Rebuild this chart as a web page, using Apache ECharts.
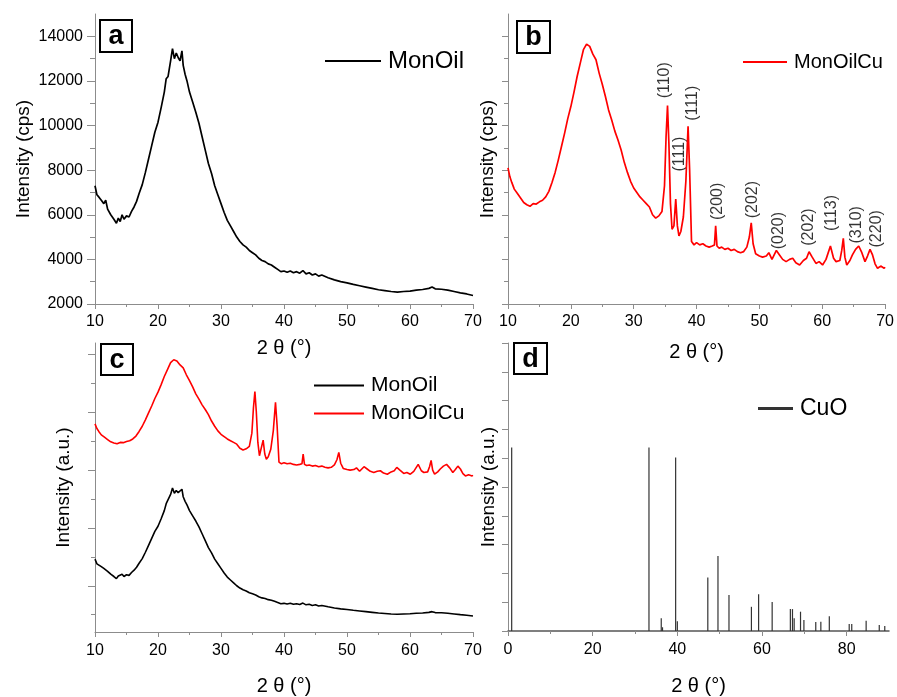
<!DOCTYPE html>
<html><head><meta charset="utf-8">
<script src="https://cdn.jsdelivr.net/npm/echarts@6/dist/echarts.min.js"></script>
<style>html,body{margin:0;padding:0;background:#fff}#chart{width:897px;height:697px}</style>
</head><body><div id="chart"></div>
<script>
// ---------------- data ----------------
const monOilTheta = [10.0,10.3,10.6,11.0,11.4,11.7,12.0,12.5,13.0,13.4,13.7,14.0,14.3,14.6,15.0,15.4,15.8,16.2,16.6,17.0,17.5,18.0,18.5,19.0,19.5,20.0,20.5,21.0,21.3,21.6,22.0,22.3,22.6,22.9,23.2,23.5,23.8,24.0,24.3,24.6,25.0,25.5,26.0,26.5,27.0,27.5,28.0,28.5,29.0,29.5,30.0,30.5,31.0,31.5,32.0,32.5,33.0,33.5,34.0,34.5,35.0,35.5,36.0,36.5,37.0,37.5,38.0,38.5,39.0,39.5,40.0,40.5,41.0,41.5,42.0,42.5,43.0,43.5,44.0,44.5,45.0,45.5,46.0,47.0,48.0,49.0,50.0,51.0,52.0,53.0,54.0,55.0,56.0,57.0,58.0,59.0,60.0,61.0,62.0,63.0,63.5,64.0,65.0,66.0,67.0,68.0,69.0,70.0];
const monOilCps = [7300,6900,6800,6650,6500,6650,6250,6000,5800,5620,5850,5700,6000,5800,5950,5900,6150,6350,6600,6950,7350,7900,8500,9100,9700,10150,10800,11500,12100,12200,12900,13450,13000,13250,13050,12900,13350,12700,12300,12000,11500,11050,10600,10100,9500,8900,8300,7850,7300,6900,6500,6100,5750,5500,5250,5000,4800,4650,4550,4400,4300,4200,4050,3950,3900,3800,3750,3650,3550,3450,3480,3420,3480,3400,3450,3380,3500,3350,3400,3300,3350,3250,3300,3180,3080,3000,2950,2880,2820,2760,2700,2640,2600,2560,2530,2560,2580,2620,2650,2700,2760,2680,2660,2620,2560,2500,2450,2380];

const monOilCuTheta = [10.0,10.3,10.6,11.0,11.5,12.0,12.5,13.0,13.5,14.0,14.5,15.0,15.5,16.0,16.5,17.0,17.5,18.0,18.5,19.0,19.5,20.0,20.5,21.0,21.5,22.0,22.5,23.0,23.5,24.0,24.5,25.0,25.5,26.0,26.5,27.0,27.5,28.0,28.5,29.0,29.5,30.0,30.5,31.0,31.5,32.0,32.5,33.0,33.5,34.0,34.5,34.9,35.15,35.38,35.6,35.85,36.1,36.4,36.69,36.95,37.2,37.5,37.9,38.3,38.65,38.9,39.2,39.6,40.0,40.5,41.0,41.5,42.0,42.5,42.85,43.04,43.25,43.6,44.0,44.5,45.0,45.5,46.0,46.5,47.0,47.5,48.0,48.4,48.7,49.0,49.4,50.0,50.5,51.1,51.5,52.0,52.7,53.2,53.7,54.25,54.8,55.3,55.8,56.4,57.0,57.5,57.9,58.4,59.0,59.5,60.05,60.6,61.3,61.8,62.2,62.8,63.1,63.35,63.6,63.9,64.4,64.8,65.3,65.8,66.3,66.8,67.2,67.6,68.0,68.4,68.8,69.3,69.85,70.0];
const monOilCuCps = [8100,7700,7450,7150,6950,6750,6550,6450,6380,6500,6480,6580,6650,6800,7050,7450,7900,8450,9050,9650,10300,10850,11500,12200,12800,13400,13650,13550,13200,12950,12350,11850,11300,10700,10250,9750,9350,8900,8350,7900,7500,7200,7000,6800,6650,6500,6350,6000,5850,5950,6150,7300,9500,10900,9200,6500,5350,5500,6700,5500,5050,5250,5900,7500,9970,8000,4800,4650,4750,4650,4700,4600,4550,4600,4650,5500,4600,4500,4550,4450,4500,4400,4450,4350,4300,4350,4550,5000,5640,4700,4250,4150,4100,4150,4300,4000,4400,4200,4000,3900,4000,4050,3850,3750,3950,4050,4340,4100,3820,3900,3750,4000,4600,4050,3900,3950,4400,4940,4100,3750,3950,4200,4450,4600,4300,3900,4150,4450,4200,3800,3600,3700,3600,3650];

const peakLabelText  = ['(110)','(111)','(111)','(200)','(202)','(020)','(202)','(113)','(310)','(220)'];
const peakLabelTheta = [34.95, 37.33, 39.3, 43.36, 48.9, 53.1, 57.9, 61.45, 65.5, 68.6];
const peakLabelCps   = [12030, 8720, 11000, 6600, 6680, 5290, 5450, 6080, 5550, 5370];

const cuoTheta     = [0.87,33.3,36.2,36.5,39.6,40.0,47.2,49.6,52.2,57.5,59.2,62.4,66.7,67.2,67.6,69.1,69.9,72.7,73.9,75.9,80.6,81.2,84.6,87.7,89.0];
const cuoIntensity = [6.37,6.37,0.44,0.13,6.02,0.34,1.86,2.6,1.25,0.84,1.28,1.01,0.76,0.76,0.44,0.67,0.38,0.31,0.32,0.51,0.24,0.24,0.36,0.21,0.17];

const xTicksAB   = [10,20,30,40,50,60,70];
const yTicksAB   = [2000,4000,6000,8000,10000,12000,14000];
const yMinorAB   = [3000,5000,7000,9000,11000,13000];
const yTicksC    = [5000,10000,15000,20000,25000];
const yMinorC    = [2500,7500,12500,17500,22500];
const xTicksD    = [0,20,40,60,80];
const xMinorD    = [10,30,50,70];
const cuOffsetC  = 10900;   // vertical offset of MonOilCu in panel c

// ---------------- helpers ----------------
const FONT = '"Liberation Sans", Arial, sans-serif';
const GRAY = '#8c8c8c';
const pairs = (xs, ys, off) => xs.map((x, i) => [x, ys[i] + (off || 0)]);

function xAxisDef(grid, min, max, labels, opts) {
  return Object.assign({
    type: 'value', gridIndex: grid, min: min, max: max, position: 'bottom',
    splitLine: { show: false },
    axisLine: { show: true, lineStyle: { color: GRAY, width: 1 } },
    axisTick: { show: true, length: 5, customValues: labels, lineStyle: { color: GRAY } },
    axisLabel: { show: true, customValues: labels, margin: 10, color: '#000', fontSize: 16, fontFamily: FONT, formatter: v => String(v) },
    nameLocation: 'middle', name: '2 θ (°)', nameGap: 34,
    nameTextStyle: { color: '#000', fontSize: 20, fontFamily: FONT }
  }, opts || {});
}
function minorAxis(kind, grid, min, max, values, len) {
  return {
    type: 'value', gridIndex: grid, min: min, max: max,
    position: kind === 'x' ? 'bottom' : 'left',
    splitLine: { show: false },
    axisLine: { show: false },
    axisLabel: { show: false },
    axisTick: { show: true, length: len, customValues: values, lineStyle: { color: GRAY } }
  };
}
function yAxisDef(grid, min, max, ticks, showLabels, name, gap, opts) {
  return Object.assign({
    type: 'value', gridIndex: grid, min: min, max: max, position: 'left',
    splitLine: { show: false },
    axisLine: { show: true, lineStyle: { color: GRAY, width: 1 } },
    axisTick: { show: true, length: 8, customValues: ticks, lineStyle: { color: GRAY } },
    axisLabel: { show: showLabels, customValues: ticks, margin: 12, color: '#000', fontSize: 16, fontFamily: FONT, formatter: v => String(v) },
    name: name, nameLocation: 'middle', nameRotate: 90, nameGap: gap,
    nameTextStyle: { color: '#000', fontSize: 19, fontFamily: FONT }
  }, opts || {});
}
function tag(letter, x, y, w, h) {
  return [
    { type: 'rect', shape: { x: x, y: y, width: w, height: h }, style: { fill: '#fff', stroke: '#000', lineWidth: 2 }, z: 100 },
    { type: 'text', x: x + w / 2, y: y + h / 2 + 1, style: { text: letter, fill: '#000', font: 'bold 27px ' + FONT, textAlign: 'center', textVerticalAlign: 'middle' }, z: 101 }
  ];
}
function legendDef(names, left, top, w, h, fs) {
  return {
    data: names, left: left, top: top, orient: 'vertical', icon: 'rect',
    itemWidth: w, itemHeight: h, itemGap: 7, padding: 0, selectedMode: false,
    textStyle: { color: '#000', fontSize: fs, fontFamily: FONT, padding: [0, 0, 0, 2] }
  };
}

const option = {
  animation: false,
  backgroundColor: '#fff',
  grid: [
    { left: 95,  top: 14,  width: 378, height: 290 },
    { left: 508, top: 14,  width: 378, height: 290 },
    { left: 95,  top: 343, width: 378, height: 290 },
    { left: 508, top: 343, width: 381, height: 289 }
  ],
  xAxis: [
    xAxisDef(0, 10, 70, xTicksAB, { minorTick: { show: true, splitNumber: 2, length: 3, lineStyle: { color: GRAY } } }),
    xAxisDef(1, 10, 70, xTicksAB, { nameGap: 38, minorTick: { show: true, splitNumber: 2, length: 3, lineStyle: { color: GRAY } } }),
    xAxisDef(2, 10, 70, xTicksAB, { nameGap: 44, axisLabel: { customValues: xTicksAB, margin: 11, color: '#000', fontSize: 16, fontFamily: FONT, formatter: v => String(v) }, minorTick: { show: true, splitNumber: 2, length: 3, lineStyle: { color: GRAY } } }),
    xAxisDef(3, 0, 90, xTicksD, { nameGap: 45, axisLine: { show: true, lineStyle: { color: '#555', width: 1.5 } }, axisLabel: { customValues: xTicksD, margin: 11, color: '#000', fontSize: 16, fontFamily: FONT, formatter: v => String(v) } }),
    minorAxis('x', 3, 0, 90, xMinorD, 3)
  ],
  yAxis: [
    yAxisDef(0, 2000, 15000, yTicksAB, true, 'Intensity (cps)', 62),
    minorAxis('y', 0, 2000, 15000, yMinorAB, 5),
    yAxisDef(1, 2000, 15000, yTicksAB, false, 'Intensity (cps)', 11, { axisTick: { show: true, length: 6, customValues: yTicksAB, lineStyle: { color: GRAY } } }),
    minorAxis('y', 1, 2000, 15000, yMinorAB, 4),
    yAxisDef(2, 1000, 26000, yTicksC, false, 'Intensity (a.u.)', 22, { axisTick: { show: true, length: 7, customValues: yTicksC, lineStyle: { color: GRAY } } }),
    minorAxis('y', 2, 1000, 26000, yMinorC, 4),
    yAxisDef(3, 0, 10, undefined, false, 'Intensity (a.u.)', 10, { interval: 1, axisTick: { show: true, length: 6, lineStyle: { color: GRAY } } })
  ],
  legend: [
    legendDef(['MonOil'], 325, 49, 56, 2, 24),
    legendDef(['MonOilCu'], 743, 52, 44, 2, 20),
    legendDef(['MonOil', 'MonOilCu'], 314, 375, 50, 2, 21),
    legendDef(['CuO'], 758, 397, 35, 3, 23)
  ],
  graphic: [].concat(
    tag('a', 100, 20, 32, 32),
    tag('b', 517, 21, 33, 32),
    tag('c', 101, 344, 32, 31),
    tag('d', 514, 343, 33, 31)
  ),
  series: [
    { name: 'MonOil', type: 'line', xAxisIndex: 0, yAxisIndex: 0, data: pairs(monOilTheta, monOilCps),
      showSymbol: false, color: '#000', lineStyle: { color: '#000', width: 1.7 } },
    { name: 'MonOilCu', type: 'line', xAxisIndex: 1, yAxisIndex: 2, data: pairs(monOilCuTheta, monOilCuCps),
      showSymbol: false, color: '#ff0000', lineStyle: { color: '#ff0000', width: 1.7 } },
    { name: 'peaks', type: 'scatter', xAxisIndex: 1, yAxisIndex: 2, symbolSize: 1, itemStyle: { color: 'rgba(0,0,0,0)' },
      data: peakLabelTheta.map((t, i) => ({ value: [t, peakLabelCps[i]], name: peakLabelText[i] })),
      label: { show: true, position: 'inside', rotate: 90, formatter: p => p.name, color: '#000', fontSize: 16, fontFamily: FONT } },
    { name: 'MonOil', type: 'line', xAxisIndex: 2, yAxisIndex: 4, data: pairs(monOilTheta, monOilCps),
      showSymbol: false, color: '#000', lineStyle: { color: '#000', width: 1.6 } },
    { name: 'MonOilCu', type: 'line', xAxisIndex: 2, yAxisIndex: 4, data: pairs(monOilCuTheta, monOilCuCps, cuOffsetC),
      showSymbol: false, color: '#ff0000', lineStyle: { color: '#ff0000', width: 1.6 } },
    { name: 'CuO', type: 'bar', xAxisIndex: 3, yAxisIndex: 6, data: pairs(cuoTheta, cuoIntensity),
      barWidth: 1.2, color: '#222', itemStyle: { color: '#333' } }
  ]
};
echarts.init(document.getElementById('chart')).setOption(option);
</script>
</body></html>
